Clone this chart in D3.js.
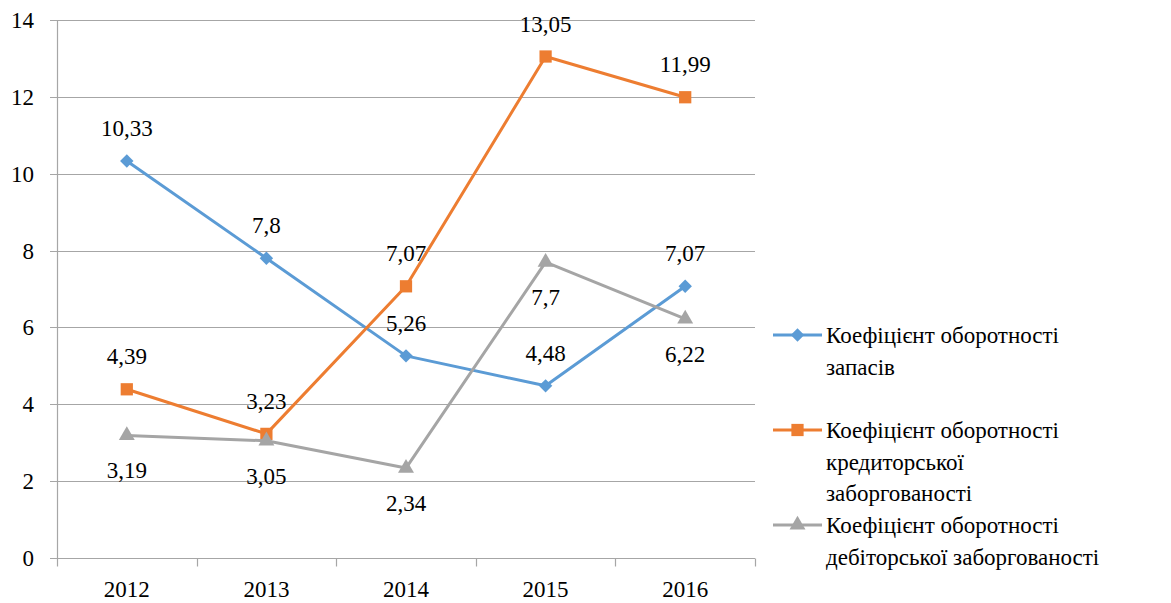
<!DOCTYPE html>
<html>
<head>
<meta charset="utf-8">
<script src="https://cdn.jsdelivr.net/npm/d3@7"></script>
<style>
  body { margin: 0; background: #fff; }
  svg text { font-family: 'Liberation Serif' !important; }
</style>
</head>
<body>
<div id="chart"></div>
<script>
const years = ['2012', '2013', '2014', '2015', '2016'];
const zapasy = [10.33, 7.8, 5.26, 4.48, 7.07];
const kredyt = [4.39, 3.23, 7.07, 13.05, 11.99];
const debit = [3.19, 3.05, 2.34, 7.7, 6.22];
const yTicks = [0, 2, 4, 6, 8, 10, 12, 14];
const seriesNames = [
  ['Коефіцієнт оборотності', 'запасів'],
  ['Коефіцієнт оборотності', 'кредиторської', 'заборгованості'],
  ['Коефіцієнт оборотності', 'дебіторської заборгованості']
];

const width = 1171, height = 603;
const margin = {top: 20, right: 416, bottom: 45, left: 57};
const FONT = 'Liberation Serif';

const series = [
  {values: zapasy, color: '#5B9BD5', symbol: d3.symbolSquare, rot: 45, size: 90, labelPos: 'above', names: seriesNames[0]},
  {values: kredyt, color: '#ED7D31', symbol: d3.symbolSquare, rot: 0, size: 150, labelPos: 'above', names: seriesNames[1]},
  {values: debit, color: '#A5A5A5', symbol: d3.symbolTriangle, rot: 0, size: 110, labelPos: 'below', names: seriesNames[2]}
];

const svg = d3.select('#chart').append('svg')
  .attr('width', width)
  .attr('height', height);

const x = d3.scaleBand().domain(years).range([margin.left, width - margin.right]);
const y = d3.scaleLinear().domain([0, 14]).range([height - margin.bottom, margin.top]);

// gridlines + y labels
const grid = svg.append('g');
grid.selectAll('line')
  .data(yTicks)
  .join('line')
    .attr('x1', margin.left - 7)
    .attr('x2', width - margin.right)
    .attr('y1', d => Math.round(y(d)) + 0.5)
    .attr('y2', d => Math.round(y(d)) + 0.5)
    .attr('stroke', '#A6A6A6')
    .attr('stroke-width', 1.2);
grid.selectAll('text')
  .data(yTicks)
  .join('text')
    .attr('x', 34)
    .attr('y', d => y(d) + 8)
    .attr('text-anchor', 'end')
    .style('font-family', FONT)
    .attr('font-size', 23)
    .text(d => d);

// y axis line
svg.append('line')
  .attr('x1', margin.left + 0.5).attr('x2', margin.left + 0.5)
  .attr('y1', y(14)).attr('y2', y(0))
  .attr('stroke', '#A6A6A6').attr('stroke-width', 1.2);

// x axis
const xAxis = svg.append('g')
  .attr('transform', `translate(0,${Math.round(y(0)) + 0.5})`);
const bounds = years.map(d => x(d)).concat([x.range()[1]]);
xAxis.selectAll('line')
  .data(bounds)
  .join('line')
    .attr('x1', d => Math.round(d) + 0.5)
    .attr('x2', d => Math.round(d) + 0.5)
    .attr('y1', 0)
    .attr('y2', 8)
    .attr('stroke', '#A6A6A6')
    .attr('stroke-width', 1.2);
xAxis.selectAll('text')
  .data(years)
  .join('text')
    .attr('x', d => x(d) + x.bandwidth() / 2)
    .attr('y', 38)
    .attr('text-anchor', 'middle')
    .style('font-family', FONT)
    .attr('font-size', 23)
    .text(d => d);

const cx = (d, i) => x(years[i]) + x.bandwidth() / 2;
const line = d3.line().x(cx).y(d => y(d));

series.forEach(s => {
  const g = svg.append('g');
  g.append('path')
    .datum(s.values)
    .attr('fill', 'none')
    .attr('stroke', s.color)
    .attr('stroke-width', 3)
    .attr('stroke-linejoin', 'round')
    .attr('d', line);
  g.selectAll('path.m')
    .data(s.values)
    .join('path')
      .attr('class', 'm')
      .attr('transform', (d, i) => `translate(${cx(d, i)},${y(d)}) rotate(${s.rot})`)
      .attr('d', d3.symbol().type(s.symbol).size(s.size))
      .attr('fill', s.color);
});

// data labels drawn on top
series.forEach(s => {
  svg.append('g').selectAll('text')
    .data(s.values)
    .join('text')
      .attr('x', cx)
      .attr('y', d => y(d) + (s.labelPos === 'above' ? -25 : 43))
      .attr('text-anchor', 'middle')
      .style('font-family', FONT)
      .attr('font-size', 23)
      .text(d => String(d).replace('.', ','));
});

// legend
const legendY = [335, 430, 525];
const lineH = 31.5;
series.forEach((s, i) => {
  const g = svg.append('g').attr('transform', `translate(773,${legendY[i]})`);
  g.append('line')
    .attr('x1', 0).attr('x2', 49)
    .attr('stroke', s.color).attr('stroke-width', 3);
  g.append('path')
    .attr('transform', `translate(24.5,0) rotate(${s.rot})`)
    .attr('d', d3.symbol().type(s.symbol).size(s.size))
    .attr('fill', s.color);
  g.selectAll('text')
    .data(s.names)
    .join('text')
      .attr('x', 53)
      .attr('y', (d, j) => j * lineH + 8)
      .style('font-family', FONT)
      .attr('font-size', 23)
      .text(d => d);
});
</script>
</body>
</html>
